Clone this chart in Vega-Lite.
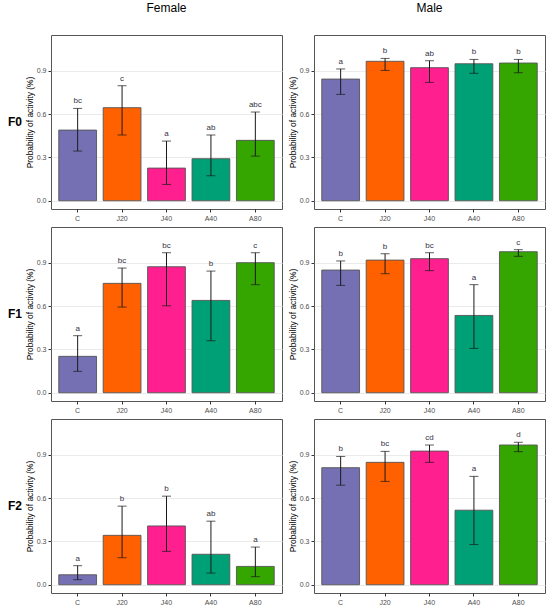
{
  "$schema": "https://vega.github.io/schema/vega-lite/v6.json",
  "padding": {"left": 7, "top": 2, "right": 5, "bottom": 2},
  "config": {
    "view": {"stroke": "#555555", "strokeWidth": 1},
    "font": "Liberation Sans"
  },
  "data": {
    "values": [
      {"gen": "F0", "sex": "Female", "trt": "C", "p": 0.489, "lo": 0.344, "hi": 0.639, "lab": "bc"},
      {"gen": "F0", "sex": "Female", "trt": "J20", "p": 0.644, "lo": 0.455, "hi": 0.796, "lab": "c"},
      {"gen": "F0", "sex": "Female", "trt": "J40", "p": 0.226, "lo": 0.113, "hi": 0.413, "lab": "a"},
      {"gen": "F0", "sex": "Female", "trt": "A40", "p": 0.291, "lo": 0.173, "hi": 0.455, "lab": "ab"},
      {"gen": "F0", "sex": "Female", "trt": "A80", "p": 0.418, "lo": 0.309, "hi": 0.614, "lab": "abc"},
      {"gen": "F0", "sex": "Male", "trt": "C", "p": 0.842, "lo": 0.736, "hi": 0.912, "lab": "a"},
      {"gen": "F0", "sex": "Male", "trt": "J20", "p": 0.965, "lo": 0.902, "hi": 0.985, "lab": "b"},
      {"gen": "F0", "sex": "Male", "trt": "J40", "p": 0.921, "lo": 0.819, "hi": 0.969, "lab": "ab"},
      {"gen": "F0", "sex": "Male", "trt": "A40", "p": 0.948, "lo": 0.882, "hi": 0.978, "lab": "b"},
      {"gen": "F0", "sex": "Male", "trt": "A80", "p": 0.953, "lo": 0.886, "hi": 0.978, "lab": "b"},
      {"gen": "F1", "sex": "Female", "trt": "C", "p": 0.252, "lo": 0.148, "hi": 0.395, "lab": "a"},
      {"gen": "F1", "sex": "Female", "trt": "J20", "p": 0.757, "lo": 0.593, "hi": 0.863, "lab": "bc"},
      {"gen": "F1", "sex": "Female", "trt": "J40", "p": 0.872, "lo": 0.602, "hi": 0.969, "lab": "bc"},
      {"gen": "F1", "sex": "Female", "trt": "A40", "p": 0.639, "lo": 0.36, "hi": 0.842, "lab": "b"},
      {"gen": "F1", "sex": "Female", "trt": "A80", "p": 0.9, "lo": 0.748, "hi": 0.969, "lab": "c"},
      {"gen": "F1", "sex": "Male", "trt": "C", "p": 0.849, "lo": 0.743, "hi": 0.912, "lab": "b"},
      {"gen": "F1", "sex": "Male", "trt": "J20", "p": 0.918, "lo": 0.824, "hi": 0.962, "lab": "b"},
      {"gen": "F1", "sex": "Male", "trt": "J40", "p": 0.928, "lo": 0.845, "hi": 0.969, "lab": "bc"},
      {"gen": "F1", "sex": "Male", "trt": "A40", "p": 0.535, "lo": 0.307, "hi": 0.748, "lab": "a"},
      {"gen": "F1", "sex": "Male", "trt": "A80", "p": 0.976, "lo": 0.944, "hi": 0.99, "lab": "c"},
      {"gen": "F2", "sex": "Female", "trt": "C", "p": 0.069, "lo": 0.035, "hi": 0.132, "lab": "a"},
      {"gen": "F2", "sex": "Female", "trt": "J20", "p": 0.342, "lo": 0.187, "hi": 0.544, "lab": "b"},
      {"gen": "F2", "sex": "Female", "trt": "J40", "p": 0.407, "lo": 0.231, "hi": 0.613, "lab": "b"},
      {"gen": "F2", "sex": "Female", "trt": "A40", "p": 0.211, "lo": 0.081, "hi": 0.44, "lab": "ab"},
      {"gen": "F2", "sex": "Female", "trt": "A80", "p": 0.127, "lo": 0.056, "hi": 0.261, "lab": "a"},
      {"gen": "F2", "sex": "Male", "trt": "C", "p": 0.81, "lo": 0.689, "hi": 0.888, "lab": "b"},
      {"gen": "F2", "sex": "Male", "trt": "J20", "p": 0.847, "lo": 0.715, "hi": 0.923, "lab": "bc"},
      {"gen": "F2", "sex": "Male", "trt": "J40", "p": 0.925, "lo": 0.847, "hi": 0.967, "lab": "cd"},
      {"gen": "F2", "sex": "Male", "trt": "A40", "p": 0.516, "lo": 0.278, "hi": 0.75, "lab": "a"},
      {"gen": "F2", "sex": "Male", "trt": "A80", "p": 0.967, "lo": 0.921, "hi": 0.986, "lab": "d"}
    ]
  },
  "facet": {
    "row": {
      "field": "gen",
      "title": null,
      "header": {
        "labelAngle": 0,
        "labelOrient": "left",
        "labelFontSize": 12,
        "labelFontWeight": "bold",
        "labelColor": "#000000",
        "labelPadding": 15
      }
    },
    "column": {
      "field": "sex",
      "title": null,
      "header": {
        "labelFontSize": 12,
        "labelColor": "#000000",
        "labelPadding": 20
      }
    }
  },
  "spacing": {"row": 18, "column": 32},
  "bounds": "flush",
  "resolve": {"axis": {"x": "independent", "y": "independent"}},
  "spec": {
    "width": 231,
    "height": 174,
    "encoding": {
      "x": {
        "field": "trt",
        "type": "nominal",
        "sort": ["C", "J20", "J40", "A40", "A80"],
        "scale": {"paddingInner": 0.15, "paddingOuter": 0.175},
        "axis": {
          "title": null,
          "labelAngle": 0,
          "labelColor": "#4d4d4d",
          "labelFontSize": 7,
          "tickColor": "#333333",
          "tickSize": 3,
          "domain": false,
          "grid": false
        }
      }
    },
    "layer": [
      {
        "mark": {"type": "bar", "stroke": "#555555", "strokeWidth": 0.9},
        "encoding": {
          "y": {
            "field": "p",
            "type": "quantitative",
            "scale": {"domain": [-0.057, 1.147], "nice": false, "zero": false},
            "axis": {
              "title": "Probability of activity (%)",
              "titleFontSize": 8.4,
              "titleFontWeight": "normal",
              "titleColor": "#000000",
              "titlePadding": 2,
              "values": [0, 0.15, 0.3, 0.45, 0.6, 0.75, 0.9, 1.05],
              "labelExpr": "round(datum.value * 100) % 30 == 0 ? format(datum.value, '.1f') : ''",
              "labelColor": "#4d4d4d",
              "labelFontSize": 7,
              "domain": false,
              "tickSize": 3,
              "tickColor": "#333333",
              "tickOpacity": {"condition": {"test": "round(datum.value * 100) % 30 != 0", "value": 0}, "value": 1},
              "gridColor": "#ebebeb",
              "gridWidth": {"condition": {"test": "round(datum.value * 100) % 30 != 0", "value": 0.6}, "value": 1}
            }
          },
          "y2": {"datum": 0},
          "color": {
            "field": "trt",
            "type": "nominal",
            "scale": {
              "domain": ["C", "J20", "J40", "A40", "A80"],
              "range": ["#7570b3", "#ff6000", "#ff1f8e", "#00a077", "#35a600"]
            },
            "legend": null
          }
        }
      },
      {
        "mark": {"type": "rule", "color": "#1a1a1a", "strokeWidth": 1},
        "encoding": {
          "y": {"field": "lo", "type": "quantitative"},
          "y2": {"field": "hi"}
        }
      },
      {
        "mark": {"type": "tick", "color": "#1a1a1a", "size": 9, "thickness": 1},
        "encoding": {"y": {"field": "lo", "type": "quantitative"}}
      },
      {
        "mark": {"type": "tick", "color": "#1a1a1a", "size": 9, "thickness": 1},
        "encoding": {"y": {"field": "hi", "type": "quantitative"}}
      },
      {
        "mark": {"type": "text", "dy": -7, "fontSize": 8, "color": "#333344"},
        "encoding": {
          "y": {"field": "hi", "type": "quantitative"},
          "text": {"field": "lab"}
        }
      }
    ]
  }
}
